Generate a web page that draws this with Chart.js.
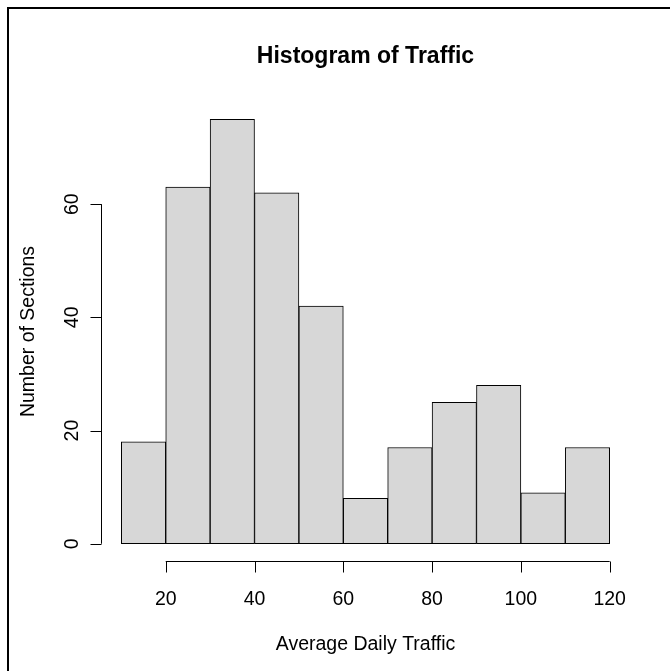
<!DOCTYPE html>
<html>
<head>
<meta charset="utf-8">
<script src="https://cdn.jsdelivr.net/npm/chart.js@4/dist/chart.umd.min.js"></script>
<style>
    html, body { margin: 0; padding: 0; background: #ffffff; }
    canvas { display: block; }
</style>
</head>
<body>
<canvas id="chart" width="670" height="671"></canvas>
<script>
// ============================================================
// Data : histogram bins (width 10) and counts
// ============================================================

const binStarts = [10, 20, 30, 40, 50, 60, 70, 80, 90, 100, 110];
const binWidth = 10;
const counts = [18, 63, 75, 62, 42, 8, 17, 25, 28, 9, 17];

const xTicks = [20, 40, 60, 80, 100, 120];
const yTicks = [0, 20, 40, 60];

const chartTitle = "Histogram of Traffic";
const xTitle = "Average Daily Traffic";
const yTitle = "Number of Sections";

// ============================================================
// R-style axes, frame and titles drawn on top of the chart
// ============================================================

const FONT = "'Liberation Sans', Arial, Helvetica, sans-serif";

const rAxes = {
    id: "rAxes",
    afterDraw(chart) {
        const ctx = chart.ctx;
        const area = chart.chartArea;
        const xs = chart.scales.x;
        const ys = chart.scales.y;

        ctx.save();
        ctx.strokeStyle = "#000000";
        ctx.fillStyle = "#000000";

        // outer frame (top and left edges only)
        ctx.lineWidth = 2;
        ctx.beginPath();
        ctx.moveTo(8, 671);
        ctx.lineTo(8, 8);
        ctx.lineTo(670, 8);
        ctx.stroke();
        ctx.lineWidth = 1;

        // x axis
        const xAxisY = Math.round(area.bottom) + 0.5;
        ctx.beginPath();
        ctx.moveTo(xs.getPixelForValue(xTicks[0]), xAxisY);
        ctx.lineTo(xs.getPixelForValue(xTicks[xTicks.length - 1]), xAxisY);
        for (let v of xTicks) {
            const px = Math.round(xs.getPixelForValue(v)) + 0.5;
            ctx.moveTo(px, xAxisY);
            ctx.lineTo(px, xAxisY + 11);
        }
        ctx.stroke();

        ctx.font = "19.5px " + FONT;
        ctx.textAlign = "center";
        ctx.textBaseline = "alphabetic";
        for (let v of xTicks) {
            ctx.fillText(String(v), xs.getPixelForValue(v), 605);
        }

        // y axis
        const yAxisX = Math.round(area.left) - 0.5;
        ctx.beginPath();
        ctx.moveTo(yAxisX, ys.getPixelForValue(yTicks[0]));
        ctx.lineTo(yAxisX, ys.getPixelForValue(yTicks[yTicks.length - 1]));
        for (let v of yTicks) {
            const py = Math.round(ys.getPixelForValue(v)) + 0.5;
            ctx.moveTo(yAxisX, py);
            ctx.lineTo(yAxisX - 11, py);
        }
        ctx.stroke();

        for (let v of yTicks) {
            ctx.save();
            ctx.translate(77.5, ys.getPixelForValue(v));
            ctx.rotate(-Math.PI / 2);
            ctx.fillText(String(v), 0, 0);
            ctx.restore();
        }

        // axis titles
        ctx.fillText(xTitle, (area.left + area.right) / 2, 650);

        ctx.save();
        ctx.translate(33.5, (area.top + area.bottom) / 2);
        ctx.rotate(-Math.PI / 2);
        ctx.fillText(yTitle, 0, 0);
        ctx.restore();

        // main title
        ctx.font = "bold 23px " + FONT;
        ctx.fillText(chartTitle, (area.left + area.right) / 2, 63);

        ctx.restore();
    }
};

// ============================================================
// Chart.js histogram
// ============================================================

const ctx = document.getElementById("chart").getContext("2d");

new Chart(ctx, {
    type: "bar",
    data: {
        datasets: [{
            data: binStarts.map((s, i) => ({ x: s + binWidth / 2, y: counts[i] })),
            backgroundColor: "#d7d7d7",
            borderColor: "#000000",
            borderWidth: 1,
            borderSkipped: false,
            barPercentage: 1,
            categoryPercentage: 1
        }]
    },
    options: {
        responsive: false,
        animation: false,
        layout: {
            padding: { left: 101.8, right: 40.8, top: 102.3, bottom: 110.3 }
        },
        scales: {
            x: {
                type: "linear",
                min: 5.6,
                max: 124.4,
                offset: false,
                display: false
            },
            y: {
                min: -3,
                max: 78,
                display: false
            }
        },
        plugins: {
            legend: { display: false },
            tooltip: { enabled: false },
            title: { display: false }
        }
    },
    plugins: [rAxes]
});
</script>
</body>
</html>
